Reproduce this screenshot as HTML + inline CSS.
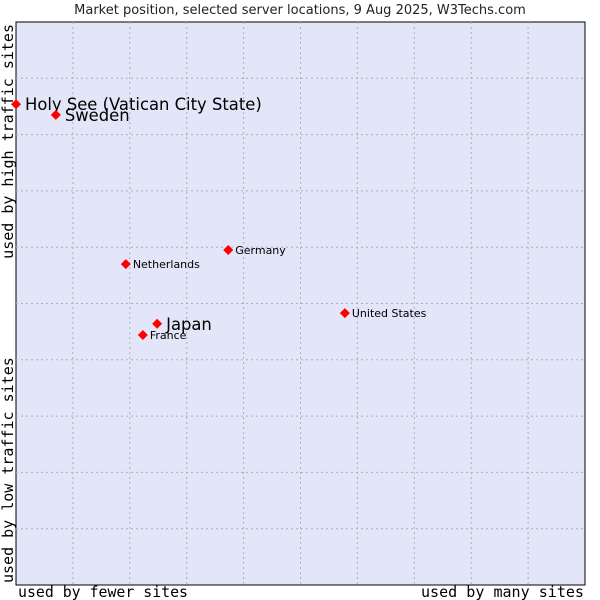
<!DOCTYPE html>
<html><head><meta charset="utf-8"><style>
html,body{margin:0;padding:0;background:#fff;}
svg{display:block;}
</style></head><body>
<svg id="chart" width="600" height="600" xmlns="http://www.w3.org/2000/svg">
<text x="300" y="14" text-anchor="middle" font-family="DejaVu Sans, sans-serif" font-size="13" fill="#222">Market position, selected server locations, 9 Aug 2025, W3Techs.com</text>
<rect x="16" y="22" width="569" height="563" fill="#e3e5f8" stroke="#000" stroke-width="1"/>
<g id="grid"></g>
<g id="marks"></g>
<text x="18" y="597" font-family="DejaVu Sans Mono, monospace" font-size="15" fill="#000" textLength="170" lengthAdjust="spacingAndGlyphs">used by fewer sites</text>
<text x="421" y="597" font-family="DejaVu Sans Mono, monospace" font-size="15" fill="#000" textLength="163" lengthAdjust="spacingAndGlyphs">used by many sites</text>
<text transform="translate(13,24) rotate(-90)" text-anchor="end" font-family="DejaVu Sans Mono, monospace" font-size="15" fill="#000">used by high traffic sites</text>
<text transform="translate(13,583) rotate(-90)" text-anchor="start" font-family="DejaVu Sans Mono, monospace" font-size="15" fill="#000">used by low traffic sites</text>
</svg>
<script>
const countries = ["Holy See (Vatican City State)","Sweden","Netherlands","Germany","United States","Japan","France"];
const xValues = [0, 7.0, 19.3, 37.3, 57.8, 24.8, 22.3];
const yValues = [85.4, 83.5, 57.0, 59.5, 48.3, 46.4, 44.4];
const bigLabel = [true, true, false, false, false, true, false];
const L=16,R=585,T=22,B=585;
const sx=v=>L+v/100*(R-L);
const sy=v=>B-v/100*(B-T);
const NS="http://www.w3.org/2000/svg";
const grid=document.getElementById('grid');
for(let i=1;i<10;i++){
  const v=document.createElementNS(NS,'line');
  
  
  v.setAttribute('x1',sx(i*10));v.setAttribute('x2',sx(i*10));v.setAttribute('y1',T);v.setAttribute('y2',B);
  v.setAttribute('stroke','#b0b0b0');v.setAttribute('stroke-dasharray','2,3');
  grid.appendChild(v);
  const h=document.createElementNS(NS,'line');
  
  
  h.setAttribute('y1',sy(i*10));h.setAttribute('y2',sy(i*10));h.setAttribute('x1',L);h.setAttribute('x2',R);
  h.setAttribute('stroke','#b0b0b0');h.setAttribute('stroke-dasharray','2,3');
  grid.appendChild(h);
}
const marks=document.getElementById('marks');
countries.forEach((c,i)=>{
  const x=sx(xValues[i]),y=sy(yValues[i]);
  const p=document.createElementNS(NS,'polygon');
  
  
  p.setAttribute('points',`${x},${y-5} ${x+5},${y} ${x},${y+5} ${x-5},${y}`);
  p.setAttribute('fill','#f00');
  marks.appendChild(p);
  const t=document.createElementNS(NS,'text');
  
  
  const big=bigLabel[i];
  t.setAttribute('x',x+(big?9:7));
  t.setAttribute('y',y+(big?6:4));
  t.setAttribute('font-family','DejaVu Sans, sans-serif');
  t.setAttribute('font-size',big?16.4:11);
  t.setAttribute('fill','#000');
  t.textContent=c;
  marks.appendChild(t);
});
</script>
</body></html>
